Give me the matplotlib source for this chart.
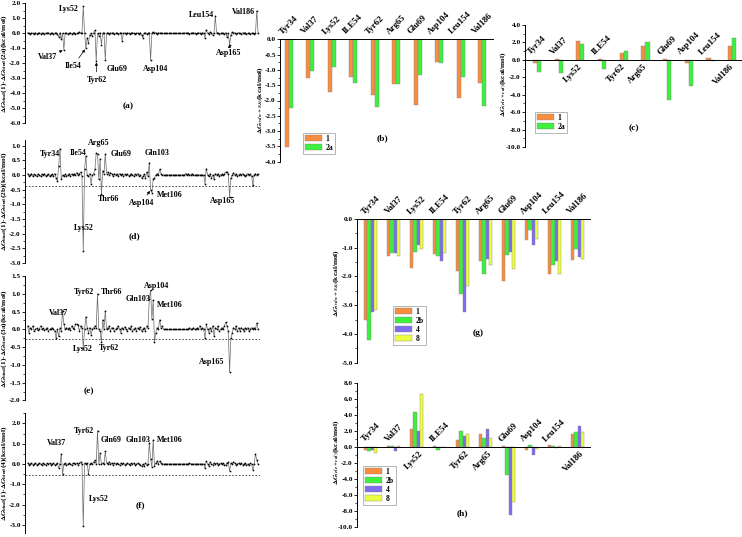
import matplotlib
matplotlib.use("Agg")
import matplotlib.pyplot as plt
import numpy as np
from matplotlib.ticker import MultipleLocator, FormatStrFormatter

plt.rcParams["font.family"] = ["Liberation Serif", "DejaVu Serif"]
plt.rcParams["font.weight"] = "bold"
plt.rcParams["mathtext.fontset"] = "stix"

# per-residue binding energy differences, residues 9..187
residues = np.arange(9, 188)

dg_2a = [
    0.05, 0.0, -0.05, 0.03, 0.0, -0.03, 0.05, -0.02, 0.0, 0.04,
    -0.03, 0.02, 0.0, -0.05, 0.03, 0.0, 0.05, -0.02, 0.0, 0.03,
    -0.02, 0.0, 0.05, -0.05, -0.25, 0.05, -0.4, 0.0, -1.1, 0.0,
    0.03, -0.05, 0.0, 0.04, -0.02, 0.0, 0.05, -0.03, 0.0, 0.02,
    0.1, 0.0, 0.05, 1.8, 0.0, -1.0, -0.3, -0.65, -0.1, 0.0,
    -0.2, 0.05, 0.2, -1.85, 0.0, -0.15, 0.05, -0.75, 0.0, 0.05,
    -1.8, 0.0, 0.05, -0.05, 0.03, 0.0, 0.05, -0.03, 0.0, 0.04,
    -0.03, 0.0, 0.05, -0.5, 0.0, 0.03, -0.02, 0.05, 0.0, -0.03,
    0.02, 0.05, 0.0, -0.05, 0.03, 0.0, -0.04, 0.05, -0.1, -0.3,
    0.0, 0.05, -0.03, 0.0, 0.05, -1.8, 0.0, 0.1, 0.0, 0.05,
    -0.03, 0.05, 0.0, 0.03, 0.0, 0.0, 0.0, 0.0, 0.0, 0.0,
    0.0, 0.0, 0.0, 0.0, 0.0, 0.0, 0.0, 0.0, 0.0, 0.0,
    0.0, 0.0, 0.03, 0.0, 0.05, -0.03, 0.0, 0.02, 0.05, 0.0,
    -0.03, 0.0, 0.04, 0.0, -0.02, 0.05, 0.0, -0.3, 0.25, 0.0,
    -0.05, 0.1, 0.0, -0.1, 0.05, 1.15, 0.0, 0.05, -0.03, 0.0,
    0.02, 0.0, -0.05, 0.05, -0.25, 0.0, -0.75, -0.1, 0.1, 0.0,
    0.05, -0.03, 0.0, 0.04, 0.0, -0.02, 0.03, 0.0, 0.05, -0.03,
    0.0, 0.02, -0.04, 0.0, 0.03, -0.02, 0.0, 1.5, 0.0,
]

dg_2b = [
    0.05, -0.03, 0.0, 0.05, -0.05, 0.03, 0.0, -0.05, 0.04, 0.0,
    -0.05, 0.03, 0.0, 0.05, -0.03, 0.0, 0.04, -0.05, 0.0, 0.03,
    -0.03, 0.05, -0.1, -0.2, 0.3, 0.9, -0.15, 0.0, -0.05, 0.03,
    -0.04, 0.0, 0.05, -0.03, 0.03, 0.0, 0.05, 0.0, 0.08, 0.0,
    0.05, 0.1, -0.05, -2.6, 0.2, 0.65, 0.0, -0.05, 0.05, -0.3,
    0.0, 0.05, 0.2, 0.75, 0.72, -0.15, 0.55, -0.65, 0.15, 0.05,
    0.72, 0.05, 0.1, 0.0, 0.08, 0.05, -0.03, 0.05, 0.0, 0.04,
    -0.03, 0.05, 0.0, 0.05, -0.05, 0.03, 0.0, 0.04, -0.03, 0.0,
    0.05, 0.0, -0.04, 0.03, 0.0, 0.05, -0.03, 0.0, -0.1, -0.05,
    0.03, -0.1, 0.1, -0.05, 0.42, -0.5, -0.6, -0.15, -0.1, 0.0,
    0.05, 0.0, 0.2, 0.05, 0.0, 0.0, 0.0, 0.0, 0.0, 0.0,
    0.0, 0.0, 0.0, 0.0, 0.0, 0.0, 0.0, 0.0, 0.0, 0.0,
    0.0, 0.0, 0.05, 0.0, 0.05, 0.0, 0.0, 0.05, 0.0, 0.0,
    0.0, 0.0, 0.0, 0.0, 0.0, 0.0, 0.0, -0.3, 0.22, 0.0,
    -0.05, 0.05, -0.1, 0.0, -0.15, 0.05, 0.0, 0.05, -0.03, 0.0,
    0.03, 0.0, 0.05, 0.1, 0.1, 0.05, -0.75, -0.1, 0.0, 0.08,
    0.0, 0.05, -0.03, 0.0, 0.04, 0.0, 0.05, 0.0, -0.03, 0.0,
    0.05, 0.0, 0.03, -0.03, -0.35, 0.0, 0.05, 0.0, 0.05,
]

dg_3a = [
    0.1, -0.1, 0.05, 0.0, 0.1, -0.05, 0.0, 0.03, -0.03, 0.0,
    0.1, 0.0, 0.03, -0.02, 0.0, 0.05, -0.05, 0.0, 0.02, 0.05,
    0.0, -0.05, -0.25, 0.0, -0.2, 0.05, -0.05, 0.52, 0.15, 0.0,
    0.05, 0.0, 0.05, -0.03, 0.1, 0.05, 0.0, 0.15, 0.15, 0.12,
    -0.05, 0.1, 0.05, -0.52, 0.0, 0.35, 0.05, -0.1, 0.05, -0.15,
    0.0, 0.05, 0.1, 0.05, 1.0, 0.0, -0.05, -0.35, 0.27, 0.0,
    0.52, 0.0, 0.05, 0.1, -0.05, 0.05, 0.03, -0.05, 0.0, 0.05,
    0.1, 0.0, -0.1, 0.05, 0.0, 0.08, 0.0, -0.05, 0.05, 0.0,
    0.1, -0.05, 0.0, 0.05, -0.05, 0.05, 0.0, 0.08, -0.05, 0.0,
    0.05, -0.05, 0.1, 0.05, 0.85, 1.1, 0.3, 0.82, -0.35, -0.1,
    0.05, 0.0, 0.27, 0.05, 0.1, 0.0, 0.0, 0.0, 0.0, 0.0,
    0.0, 0.0, 0.0, 0.0, 0.0, 0.0, 0.0, 0.0, 0.0, 0.0,
    0.0, 0.0, 0.0, 0.0, 0.0, 0.05, 0.0, 0.0, 0.05, 0.0,
    0.0, 0.05, 0.0, 0.1, 0.0, 0.05, 0.0, -0.25, 0.15, 0.0,
    -0.1, 0.05, -0.05, 0.1, -0.2, 0.05, 0.0, 0.1, -0.05, 0.0,
    0.05, 0.0, 0.1, 0.2, 0.1, -0.05, -1.2, -0.25, -0.1, 0.05,
    0.0, 0.1, -0.05, 0.05, -0.05, 0.05, 0.0, -0.05, 0.05, 0.0,
    0.05, -0.05, 0.0, 0.05, 0.0, 0.05, 0.0, 0.18, 0.0,
]

dg_4 = [
    0.05, -0.05, 0.0, 0.05, -0.03, 0.0, 0.05, -0.05, 0.0, 0.05,
    0.0, -0.03, 0.05, 0.0, -0.05, 0.03, 0.0, 0.05, -0.03, 0.0,
    0.05, -0.05, 0.0, 0.03, -0.2, 0.0, 0.5, -0.5, 0.0, 0.05,
    -0.05, 0.0, 0.05, 0.0, -0.05, 0.03, 0.05, 0.0, 0.05, -0.03,
    0.05, 0.1, 0.0, -3.05, 0.05, 0.0, 0.05, -0.5, 0.0, 0.05,
    0.0, 0.1, 0.2, 0.0, 1.65, 0.0, 0.55, 0.0, 0.05, 0.0,
    0.62, 0.05, 0.0, 0.1, 0.0, 0.05, -0.03, 0.05, 0.0, 0.05,
    0.0, -0.05, 0.05, 0.0, 0.05, -0.03, 0.0, 0.05, 0.0, -0.05,
    0.05, 0.0, 0.05, -0.05, 0.0, 0.05, 0.0, -0.05, -0.1, 0.0,
    -0.1, 0.05, -0.05, 0.0, 1.05, 0.25, -0.15, 1.2, -0.1, 0.05,
    0.15, 0.0, 0.15, 0.05, 0.0, 0.0, 0.0, 0.0, 0.0, 0.0,
    0.0, 0.0, 0.0, 0.0, 0.0, 0.0, 0.0, 0.0, 0.0, 0.0,
    0.0, 0.0, 0.0, 0.0, 0.0, 0.05, 0.0, 0.0, 0.0, 0.0,
    0.0, 0.0, 0.0, 0.0, 0.0, 0.0, 0.0, -0.2, 0.15, 0.0,
    -0.1, 0.1, 0.0, -0.05, 0.05, 0.0, 0.05, -0.05, 0.0, 0.05,
    0.0, 0.05, -0.05, -0.05, 0.05, 0.1, -0.35, 0.05, 0.0, 0.1,
    0.05, -0.05, 0.0, 0.05, 0.0, 0.05, -0.05, 0.0, 0.05, -0.05,
    0.0, -0.05, 0.05, 0.0, -0.3, 0.0, 0.5, 0.2, 0.0,
]

# key residues, energy components
sites = ["Tyr34", "Val37", "Lys52", "ILE54", "Tyr62", "Arg65", "Glu69", "Asp104", "Leu154", "Val186"]
vdw_1 = [-3.53, -1.28, -1.71, -1.22, -1.82, -1.47, -2.15, -0.73, -1.93, -1.43]
vdw_2a = [-2.26, -1.04, -0.89, -1.44, -2.22, -1.47, -1.16, -0.78, -1.24, -2.18]
vdw_2b = [-4.21, -1.18, -1.14, -1.29, -2.60, -1.92, -1.27, -0.38, -1.59, -1.04]
vdw_4 = [-3.24, -1.17, -0.91, -1.46, -3.23, -1.39, -1.14, -0.90, -1.46, -1.32]
vdw_8 = [-3.16, -1.28, -1.04, -1.17, -2.32, -1.61, -1.73, -0.69, -1.90, -1.39]
ele_1 = [-0.35, 0.1, 2.2, 0.1, 0.8, 1.6, 0.1, -0.35, 0.2, 1.6]
ele_2a = [-1.45, -1.5, 1.85, -1.05, 1.05, 2.05, -4.57, -3.0, -0.15, 2.55]
ele_2b = [-0.55, 0.1, 4.3, -0.4, 1.95, 1.1, -3.55, 0.2, 0.05, 1.8]
ele_4 = [-0.45, -0.55, 2.0, 0.0, 1.35, 2.25, -8.5, -1.0, -0.2, 2.6]
ele_8 = [-0.8, 0.15, 6.6, -0.05, 1.6, 1.1, -6.9, -0.3, 0.05, 1.85]

W, H = 742, 537
fig = plt.figure(figsize=(W / 100, H / 100), dpi=100)

C1, C2, C4, C8 = "#F98C3E", "#3DF03D", "#7B6CF0", "#EEFF3F"


def px_axes(l, t, r, b):
    return fig.add_axes([l / W, 1 - b / H, (r - l) / W, (b - t) / H])


def style_y(ax, major, minor):
    ax.yaxis.set_major_locator(MultipleLocator(major))
    ax.yaxis.set_minor_locator(MultipleLocator(minor))
    ax.yaxis.set_major_formatter(FormatStrFormatter("%.1f"))
    ax.tick_params(axis="y", which="major", direction="out", length=2.0, width=0.6, labelsize=5.2, pad=1.0)
    ax.tick_params(axis="y", which="minor", direction="out", length=1.2, width=0.5)
    ax.set_xticks([])
    ax.spines["left"].set_linewidth(0.7)


def ptext(s, x, y, size=5.8, rot=0):
    fig.text(x / W, 1 - y / H, s, fontsize=size, ha="center", va="center", rotation=rot)


def line_panel(rect, vals, name, ylim, major, minor, cutoff, tags, letter):
    ax = px_axes(*rect)
    ax.plot(residues, vals, color="#6a6a6a", lw=0.5, marker="s", ms=0.8,
            mfc="k", mec="k", mew=0.3, zorder=3)
    ax.set_xlim(7, 188.5)
    ax.set_ylim(*ylim)
    for s in ["top", "right", "bottom"]:
        ax.spines[s].set_visible(False)
    style_y(ax, major, minor)
    if cutoff is not None:
        ax.axhline(cutoff, color="#333333", lw=0.6, ls=(0, (2, 2)))
    for t in tags:
        s, x, y = t[:3]
        if len(t) == 4:
            r = t[3]
            ax.annotate(s, xy=(r, vals[r - 9]), xytext=(x, H - y), textcoords="figure pixels",
                        fontsize=5.8, ha="center", va="center",
                        arrowprops=dict(arrowstyle="-|>", lw=0.5, color="k",
                                        mutation_scale=4, shrinkA=1, shrinkB=1))
        else:
            ptext(s, x, y)
    ptext(letter[0], letter[1], letter[2], size=6.8)
    top, bot = rect[1], rect[3]
    ptext(r"$\Delta G_{\rm bind}$(1)-$\Delta G_{\rm bind}$(" + name + ")(kcal/mol)",
          4.5, (top + bot) / 2, size=5.3, rot=90)
    return ax


line_panel((25, 3.3, 260, 123.3), dg_2a, "2a", (-6, 2), 1.0, 0.5, None,
           [("Lys52", 69, 9), ("Val37", 48, 57, 37), ("Ile54", 73, 66, 54),
            ("Tyr62", 97, 80, 62), ("Glu69", 117, 69), ("Asp104", 156, 69),
            ("Leu154", 201, 15), ("Val186", 243, 12), ("Asp165", 229, 53, 165)],
           ("(a)", 128, 106))

line_panel((25, 139.7, 260, 263.2), dg_2b, "2b", (-3.0, 1.2), 0.5, 0.25, -0.37,
           [("Tyr34", 50, 154), ("Ile54", 78, 153), ("Arg65", 99, 143),
            ("Glu69", 121, 154), ("Gln103", 157, 153), ("Thr66", 109, 199),
            ("Asp104", 142, 203, 104), ("Met106", 170, 195), ("Asp165", 223, 201),
            ("Lys52", 84, 228)],
           ("(d)", 134, 236))

line_panel((25, 276, 260, 400.5), dg_3a, "3a", (-2.0, 1.5), 0.5, 0.25, -0.28,
           [("Val37", 59, 313), ("Tyr62", 84, 292), ("Thr66", 112, 292),
            ("Gln103", 138, 299), ("Asp104", 157, 286), ("Met106", 170, 305),
            ("Lys52", 83, 349), ("Tyr62", 109, 348), ("Asp165", 212, 362)],
           ("(e)", 89, 391))

line_panel((25, 413.3, 260, 533), dg_4, "4", (-3.4, 2.5), 1.0, 0.5, -0.56,
           [("Val37", 57, 443), ("Tyr62", 84, 431), ("Gln69", 111, 440),
            ("Gln103", 138, 440), ("Met106", 170, 440), ("Lys52", 99, 499)],
           ("(f)", 140, 505))


def bar_panel(rect, series, colors, names, width, xlim, ylim, major, minor,
              top_zero, below_dx, leg_xy, letter, ylab, ylab_xy):
    ax = px_axes(*rect)
    x = np.arange(len(sites))
    n = len(series)
    for k, (vals, col, nm) in enumerate(zip(series, colors, names)):
        ax.bar(x + (k - (n - 1) / 2) * width, vals, width, color=col,
               edgecolor="#8a8a8a", linewidth=0.3, label=nm, zorder=2)
    ax.set_xlim(*xlim)
    ax.set_ylim(*ylim)
    style_y(ax, major, minor)
    ax.spines["right"].set_visible(False)
    if top_zero:
        ax.spines["bottom"].set_visible(False)
        ax.spines["top"].set_linewidth(0.7)
    else:
        ax.spines["top"].set_visible(False)
        ax.spines["bottom"].set_position(("data", 0))
        ax.spines["bottom"].set_linewidth(0.7)
    for i, s in enumerate(sites):
        vals_i = [v[i] for v in series]
        if top_zero or min(vals_i) <= 0:
            ax.annotate(s, xy=(i, 0), xytext=(0, 2.5), textcoords="offset points",
                        rotation=45, ha="center", va="bottom", fontsize=6.4)
        else:
            ax.annotate(s, xy=(i + below_dx, 0), xytext=(0, -2), textcoords="offset points",
                        rotation=45, ha="right", va="top", fontsize=6.4)
    leg = ax.legend(loc="upper left", bbox_to_anchor=(leg_xy[0] / W, 1 - leg_xy[1] / H),
                    bbox_transform=fig.transFigure, fontsize=5.5, handlelength=2.3,
                    handleheight=0.85, labelspacing=0.12, borderpad=0.25,
                    handletextpad=0.4, borderaxespad=0, fancybox=False, framealpha=1)
    leg.get_frame().set_edgecolor("#999999")
    leg.get_frame().set_linewidth(0.5)
    ptext(letter[0], letter[1], letter[2], size=6.8)
    ptext(ylab, ylab_xy[0], ylab_xy[1], size=5.3, rot=90)
    return ax


VDW = r"$\Delta G_{(vdw+SA)}$(kcal/mol)"
ELE = r"$\Delta G_{(ele+cal)}$(kcal/mol)"

bar_panel((280, 39.3, 493, 161.7), [vdw_1, vdw_2a], [C1, C2], ["1", "2a"], 0.19,
          (-0.4, 9.5), (-4, 0), 0.5, 0.25, True, 0, (303, 133), ("(b)", 382, 138),
          VDW, (260, 100))

bar_panel((525, 25, 742, 147), [ele_1, ele_2a], [C1, C2], ["1", "2a"], 0.19,
          (-0.55, 9.45), (-10, 4), 2.0, 1.0, False, 0.15, (535, 112), ("(c)", 634, 128),
          ELE, (503, 84))

bar_panel((357, 219, 590, 362.7), [vdw_1, vdw_2b, vdw_4, vdw_8], [C1, C2, C4, C8],
          ["1", "2b", "4", "8"], 0.14, (-0.59, 9.54), (-5, 0), 1.0, 0.5, True, 0,
          (393, 306), ("(g)", 478, 333), VDW, (336, 283))

bar_panel((357, 382.7, 590, 526.7), [ele_1, ele_2b, ele_4, ele_8], [C1, C2, C4, C8],
          ["1", "2b", "4", "8"], 0.14, (-0.59, 9.54), (-10, 8), 2.0, 1.0, False, 0.35,
          (363, 466), ("(h)", 462, 513), ELE, (336, 452))

fig.savefig("out.png", dpi=100)
